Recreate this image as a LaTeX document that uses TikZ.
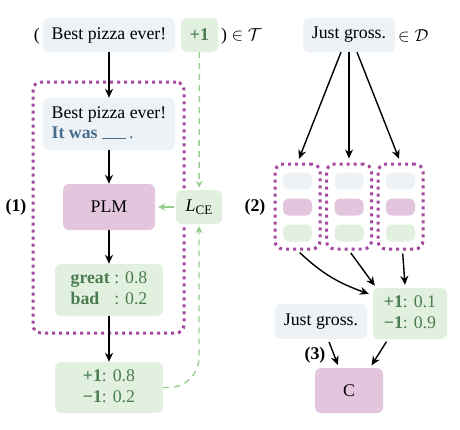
\documentclass[tikz,border=0pt]{standalone}
\usepackage{fontspec}
\setmainfont{Liberation Serif}
\usetikzlibrary{arrows.meta}
\definecolor{bluebg}{HTML}{EDF2F7}
\definecolor{pinkbg}{HTML}{E3C6DE}
\definecolor{greenbg}{HTML}{E2F0DF}
\definecolor{greentext}{HTML}{4A7C50}
\definecolor{bluetext}{HTML}{4A6D8E}
\definecolor{dotpurple}{HTML}{A5489F}
\definecolor{dashgreen}{HTML}{9ACD92}
\begin{document}
\begin{tikzpicture}[x=1pt,y=-1pt, font=\fontsize{17.8}{21}\selectfont,
 box/.style={rounded corners=6pt, inner sep=0pt, align=center},
 bbox/.style={box, fill=bluebg},
 pbox/.style={box, fill=pinkbg},
 gbox/.style={box, fill=greenbg, text=greentext},
 arr/.style={-{Stealth[length=9pt,width=8pt]}, line width=1.4pt},
 garr/.style={-{Stealth[length=7pt,width=7pt]}, line width=1.4pt, draw=dashgreen, dash pattern=on 6pt off 5pt},
 dotbox/.style={draw=dotpurple, line width=3pt, dash pattern=on 3pt off 4pt, line cap=butt, rounded corners=8pt, inner sep=0pt},
 lbl/.style={font=\fontsize{17.8}{21}\selectfont\bfseries},
]
\useasboundingbox (0,0) rectangle (460,429);

% ---------- panel (1) ----------
\node[dotbox, minimum width=151pt, minimum height=251pt] (frame) at (108.5,207.5) {};
\node[bbox, minimum width=132pt, minimum height=34pt] (top) at (109,35) {Best pizza ever!};
\node[gbox, minimum width=37pt, minimum height=34pt] (lab) at (199.5,35) {\textbf{+1}};
\node[anchor=east, inner sep=0pt] (lpar) at (40,36) {(};
\node[anchor=west, inner sep=0pt] (rpar) at (221,36) {) $\in\mathcal{T}$};

\node[bbox, minimum width=132pt, minimum height=52pt] (inp) at (109,124)
 {\begin{tabular}{@{}l@{}}Best pizza ever!\\[-1pt]
 \textcolor{bluetext}{\textbf{It was} \rule[-1pt]{24pt}{1.2pt}\,.}\end{tabular}};
\node[pbox, minimum width=92pt, minimum height=46pt] (plm) at (109,207) {PLM};
\node[gbox, minimum width=46pt, minimum height=34pt] (lce) at (199,207)
 {\textcolor{black}{\textit{L}\raisebox{-3pt}{\fontsize{13}{15}\selectfont CE}}};
\node[gbox, minimum width=108pt, minimum height=52pt] (verb) at (109,290)
 {\begin{tabular}{@{}l@{ }l@{}}\textbf{great} & : 0.8\\ \textbf{bad} & : 0.2\end{tabular}};
\node[gbox, minimum width=108pt, minimum height=51pt] (out) at (109,387.5)
 {\begin{tabular}{@{}l@{}l@{}}\textbf{+1} & : 0.8\\ \textbf{−1} & : 0.2\end{tabular}};
\node[lbl] (l1) at (16,207) {(1)};

\draw[arr] (top) -- (inp);
\draw[arr] (inp) -- (plm);
\draw[arr] (plm) -- (verb);
\draw[arr] (verb) -- (out);
\draw[garr, shorten >=2pt] (lab) -- (lce);
\draw[garr, solid, shorten <=2pt, shorten >=3pt] (lce) -- (plm);
\draw[garr, rounded corners=30pt, shorten >=2pt] (out.east) -| (lce.south);

% ---------- panel (2) ----------
\node[bbox, minimum width=92pt, minimum height=34pt] (jg) at (349,35) {Just gross.};
\node[anchor=west, inner sep=0pt] (inD) at (398,36) {$\in\mathcal{D}$};

\foreach \i/\x in {1/297.5, 2/349, 3/400.5}{
  \node[dotbox, minimum width=45pt, minimum height=85pt] (c\i) at (\x,206.5) {};
  \node[bbox, minimum width=29pt, minimum height=17pt] (c\i a) at (\x,181) {};
  \node[pbox, minimum width=29pt, minimum height=17pt] (c\i b) at (\x,207) {};
  \node[gbox, minimum width=29pt, minimum height=17pt] (c\i c) at (\x,233) {};
}
\node[lbl] (l2) at (255,207) {(2)};

\draw[arr, shorten >=4pt] ([xshift=-8pt]jg.south) -- (c1.north);
\draw[arr, shorten >=4pt] (jg.south) -- (c2.north);
\draw[arr, shorten >=4pt] ([xshift=8pt]jg.south) -- (c3.north);

\node[gbox, minimum width=74pt, minimum height=51pt] (res) at (410,313.5)
 {\begin{tabular}{@{}l@{}l@{}}\textbf{+1} & : 0.1\\ \textbf{−1} & : 0.9\end{tabular}};
\draw[arr, shorten <=3pt] (c1.south) to[bend right=12] ([xshift=-4pt,yshift=-6pt]res.north west);
\draw[arr, shorten <=3pt] (c2.south) -- ([xshift=2pt,yshift=2pt]res.north west);
\draw[arr, shorten <=3pt] ([xshift=2pt]c3.south) -- ([xshift=-5pt,yshift=3pt]res.north);

% ---------- panel (3) ----------
\node[bbox, minimum width=92pt, minimum height=35pt] (jg2) at (321,321.5) {Just gross.};
\node[pbox, minimum width=68pt, minimum height=45pt] (cls) at (349,390.5) {C};
\node[lbl] (l3) at (315,355) {(3)};
\draw[arr, shorten <=3pt, shorten >=3pt] ([xshift=7pt]jg2.south) -- ([xshift=-10pt]cls.north);
\draw[arr, shorten <=3pt, shorten >=3pt] ([xshift=-22pt]res.south) -- ([xshift=21pt]cls.north);
\end{tikzpicture}
\end{document}
